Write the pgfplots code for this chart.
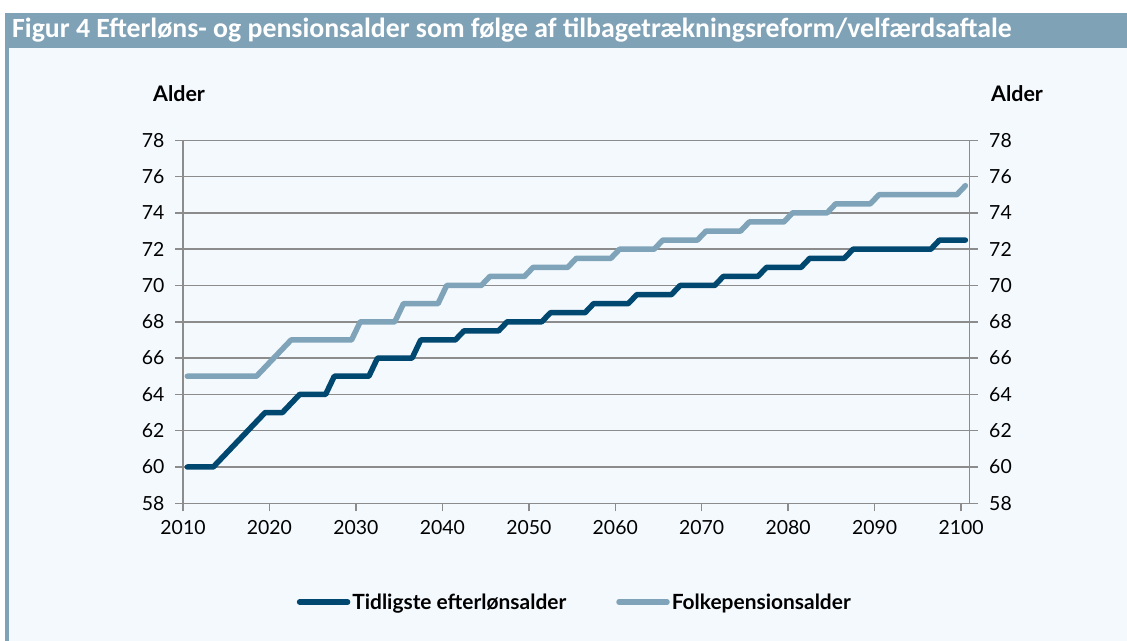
\documentclass[border=0pt]{standalone}
\usepackage{fontspec}
\setmainfont{Lato}
\newfontfamily\carlito{Carlito}
\usepackage{pgfplots}
\pgfplotsset{compat=1.18}
\definecolor{darkline}{RGB}{0,72,112}
\definecolor{lightline}{RGB}{127,163,184}
\definecolor{band}{RGB}{127,162,183}
\definecolor{panel}{RGB}{244,249,253}
\definecolor{gridgray}{RGB}{140,140,140}
\begin{document}
\begin{tikzpicture}[x=1bp,y=1bp]
\fill[white] (0,0) rectangle (1127,641);
\fill[panel] (5,0) rectangle (1127,628);
\fill[band] (5,593) rectangle (1127,628);
\fill[band] (5,0) rectangle (9,593);
\node[anchor=west, text=white, font=\carlito\bfseries\fontsize{27.9}{30}\selectfont, inner sep=0] at (12,610.5) {Figur 4 Efterløns- og pensionsalder som følge af tilbagetrækningsreform/velfærdsaftale};
\node[font=\bfseries\fontsize{21.5}{24}\selectfont] at (179,547) {Alder};
\node[font=\bfseries\fontsize{21.5}{24}\selectfont] at (1017,547) {Alder};
\begin{axis}[
  at={(183bp,137.7bp)}, anchor=south west,
  scale only axis, width=786.7bp, height=363bp,
  xmin=2010, xmax=2101, ymin=58, ymax=78,
  xtick={2010,2020,...,2100},
  ytick={58,60,...,78},
  yticklabel pos=left,
  xtick pos=bottom,
  ytick pos=left,
  tick align=outside,
  major tick length=8bp,
  ymajorgrids,
  grid style={gridgray, line width=1.5bp},
  axis line style={gridgray, line width=1.5bp},
  every tick/.style={gridgray, line width=1.5bp},
  tick label style={font=\fontsize{19.5}{21}\selectfont},
  xticklabel style={yshift=-6bp},
  yticklabel style={xshift=-7bp},
  /pgf/number format/assume math mode=true,
  /pgf/number format/1000 sep={},
  legend style={at={(0.498,-0.272)}, anchor=center, draw=none, fill=none,
    font=\bfseries\fontsize{21}{23}\selectfont,
    /tikz/every even column/.append style={column sep=48bp}},
  legend columns=2,
  legend cell align=left,
  legend image code/.code={\draw[#1, line cap=round] (0bp,0bp) -- (48bp,0bp);},
  clip=false,
]
\addplot[darkline, line width=5.5bp, line join=round, line cap=round] coordinates {
(2010.5,60) (2013.5,60) (2014.5,60.5) (2015.5,61) (2016.5,61.5) (2017.5,62) (2018.5,62.5) (2019.5,63)
(2021.5,63) (2022.5,63.5) (2023.5,64) (2026.5,64) (2027.5,65) (2031.5,65) (2032.5,66)
(2036.5,66) (2037.5,67) (2041.5,67) (2042.5,67.5) (2046.5,67.5) (2047.5,68)
(2051.5,68) (2052.5,68.5) (2056.5,68.5) (2057.5,69) (2061.5,69) (2062.5,69.5)
(2066.5,69.5) (2067.5,70) (2071.5,70) (2072.5,70.5) (2076.5,70.5) (2077.5,71)
(2081.5,71) (2082.5,71.5) (2086.5,71.5) (2087.5,72) (2096.5,72) (2097.5,72.5) (2100.5,72.5)
};
\addlegendentry{Tidligste efterlønsalder}
\addplot[lightline, line width=5.5bp, line join=round, line cap=round] coordinates {
(2010.5,65) (2018.5,65) (2019.5,65.5) (2020.5,66) (2021.5,66.5) (2022.5,67)
(2029.5,67) (2030.5,68) (2034.5,68) (2035.5,69) (2039.5,69) (2040.5,70)
(2044.5,70) (2045.5,70.5) (2049.5,70.5) (2050.5,71) (2054.5,71) (2055.5,71.5)
(2059.5,71.5) (2060.5,72) (2064.5,72) (2065.5,72.5) (2069.5,72.5) (2070.5,73)
(2074.5,73) (2075.5,73.5) (2079.5,73.5) (2080.5,74) (2084.5,74) (2085.5,74.5)
(2089.5,74.5) (2090.5,75) (2099.5,75) (2100.5,75.5)
};
\addlegendentry{Folkepensionsalder}
\end{axis}
\begin{axis}[
  at={(183bp,137.7bp)}, anchor=south west,
  scale only axis, width=786.7bp, height=363bp,
  xmin=2010, xmax=2101, ymin=58, ymax=78,
  axis x line=none,
  axis y line*=right,
  ytick={58,60,...,78},
  tick align=outside,
  major tick length=8bp,
  axis line style={gridgray, line width=1.5bp, -},
  every tick/.style={gridgray, line width=1.5bp},
  tick label style={font=\fontsize{19.5}{21}\selectfont},
  yticklabel style={xshift=8bp},
  /pgf/number format/assume math mode=true,
]
\end{axis}
\end{tikzpicture}
\end{document}
